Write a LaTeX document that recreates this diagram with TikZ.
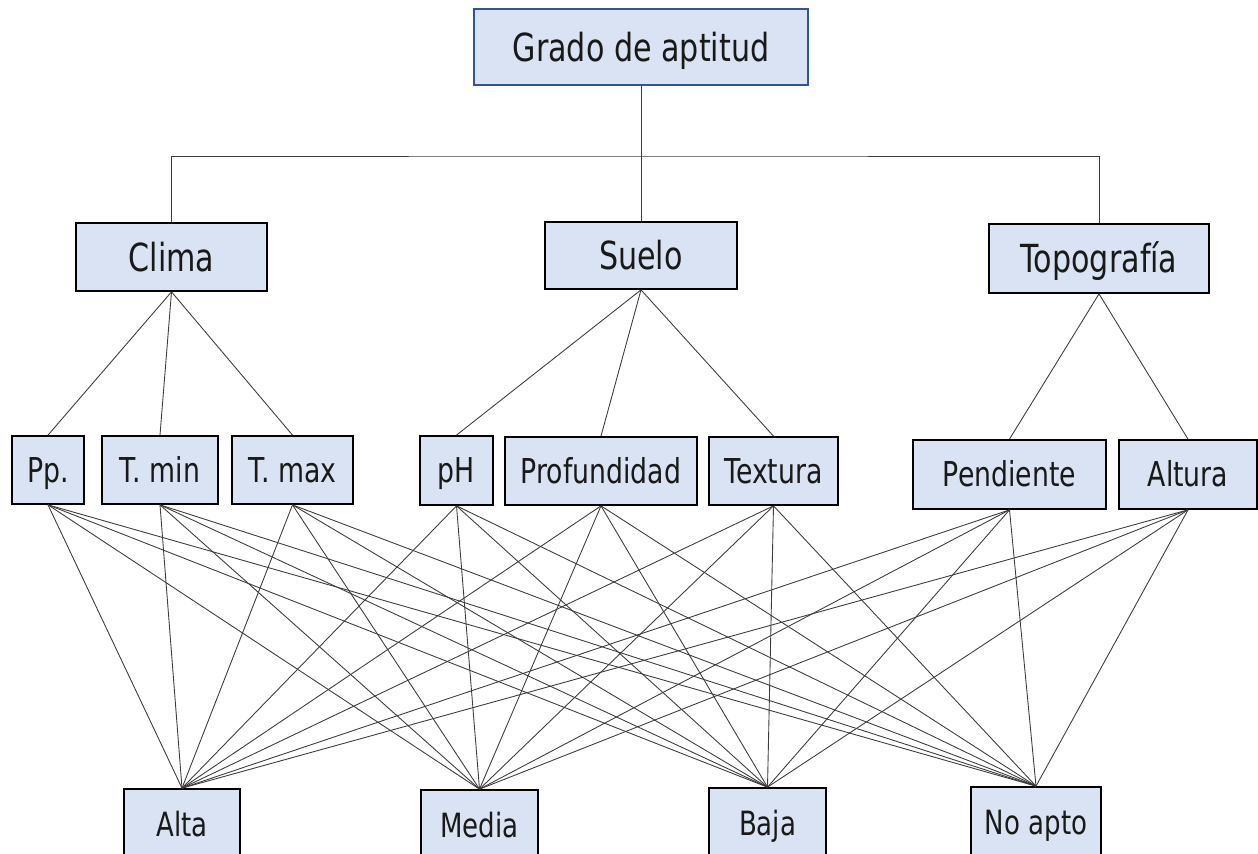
\documentclass[tikz,border=0pt]{standalone}
\usepackage{fontspec}
\setmainfont{DejaVu Sans}[FakeStretch=0.78]
\usepackage{tikz}
\usetikzlibrary{positioning}
\definecolor{boxfill}{RGB}{218,227,243}
\definecolor{rootline}{RGB}{47,85,151}
\definecolor{linkgray}{RGB}{60,60,60}
\tikzstyle{factor} = [rectangle, draw=black, line width=1pt, fill=boxfill, text centered, inner sep=0pt, text=black!90, text depth=0pt]
\tikzstyle{big} = [font=\fontsize{22}{24}\selectfont, text height=16pt]
\tikzstyle{mid} = [font=\fontsize{19.5}{22}\selectfont, text height=14.2pt]
\tikzstyle{low} = [font=\fontsize{19}{21}\selectfont, text height=13.9pt]
\tikzstyle{link} = [linkgray, line width=0.5pt]

\begin{document}
\begin{tikzpicture}[x=0.02cm, y=-0.02cm]
    \useasboundingbox (0,0) rectangle (1258,854);
    \clip (0,0) rectangle (1258,854);

    % Root
    \node[factor, big, draw=rootline, minimum width=6.68cm, minimum height=1.52cm] (grado) at (641,47) {Grado de aptitud};

    % Criteria
    \node[factor, big, minimum width=3.82cm, minimum height=1.36cm] (clima) at (171.5,257) {Clima};
    \node[factor, big, minimum width=3.84cm, minimum height=1.34cm] (suelo) at (641,255.5) {Suelo};
    \node[factor, big, minimum width=4.4cm, minimum height=1.38cm] (topo) at (1099,258.5) {Topografía};

    % Sub-criteria
    \node[factor, mid, minimum width=1.44cm, minimum height=1.36cm] (pp) at (48,470) {Pp.};
    \node[factor, mid, minimum width=2.32cm, minimum height=1.36cm] (tmin) at (160,470) {T. min};
    \node[factor, mid, minimum width=2.42cm, minimum height=1.36cm] (tmax) at (292.5,470) {T. max};
    \node[factor, mid, minimum width=1.46cm, minimum height=1.38cm] (ph) at (456.5,470.5) {pH};
    \node[factor, mid, minimum width=3.84cm, minimum height=1.36cm] (prof) at (601,471) {Profundidad};
    \node[factor, mid, minimum width=2.58cm, minimum height=1.36cm] (text) at (773.5,471) {Textura};
    \node[factor, mid, minimum width=3.86cm, minimum height=1.38cm] (pend) at (1009.5,474.5) {Pendiente};
    \node[factor, mid, minimum width=2.76cm, minimum height=1.38cm] (alt) at (1188,474.5) {Altura};

    % Classes
    \node[factor, low, minimum width=2.32cm, minimum height=1.4cm] (alta) at (182,824) {Alta};
    \node[factor, low, minimum width=2.34cm, minimum height=1.4cm] (media) at (479.5,825) {Media};
    \node[factor, low, minimum width=2.34cm, minimum height=1.4cm] (baja) at (767.5,823) {Baja};
    \node[factor, low, minimum width=2.6cm, minimum height=1.4cm] (noapto) at (1036,822) {No apto};

    % Tree
    \coordinate (bus) at (641,156);
    \draw[link] (grado.south) -- (suelo.north);
    \draw[link] (clima.north) |- (bus) -| (topo.north);
    \foreach \s in {pp,tmin,tmax} \draw[link] (clima.south) -- (\s.north);
    \foreach \s in {ph,prof,text} \draw[link] (suelo.south) -- (\s.north);
    \foreach \s in {pend,alt} \draw[link] (topo.south) -- (\s.north);

    % Every sub-criterion to every class
    \foreach \s in {pp,tmin,tmax,ph,prof,text,pend,alt}
        \foreach \t in {alta,media,baja,noapto}
            \draw[link] (\s.south) -- (\t.north);
\end{tikzpicture}
\end{document}
